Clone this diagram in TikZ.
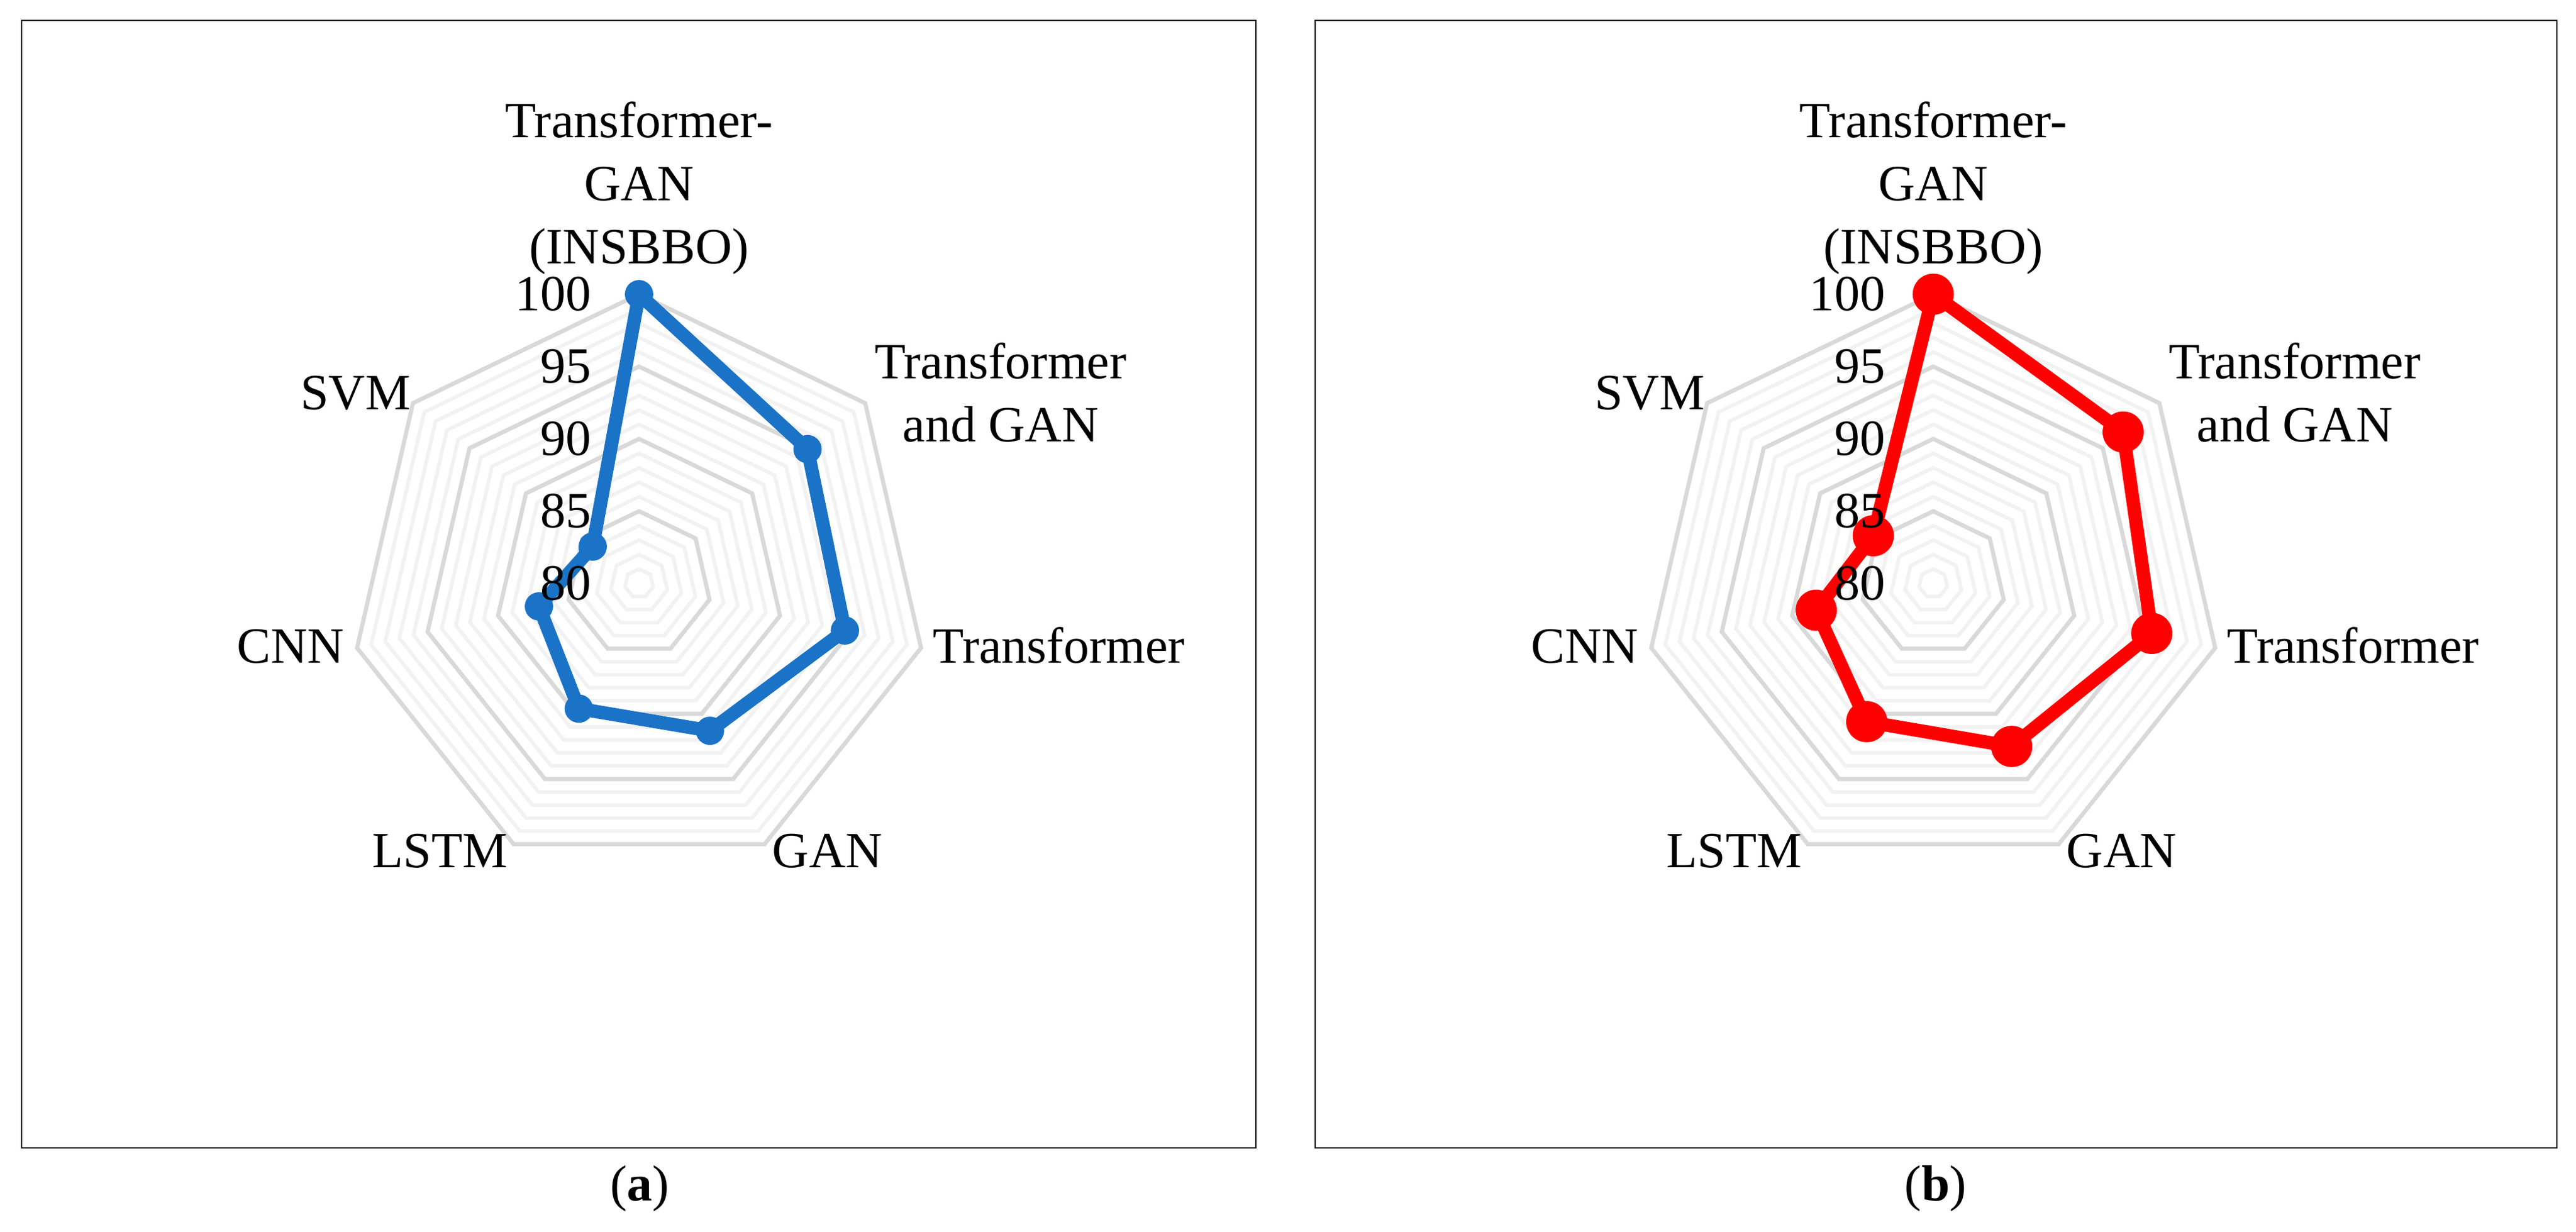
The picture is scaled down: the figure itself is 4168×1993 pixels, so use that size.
\documentclass[tikz,border=0pt]{standalone}
\usepackage{fontspec}
\setmainfont{Liberation Serif}
\definecolor{gridlight}{HTML}{F2F2F2}
\definecolor{griddark}{HTML}{D9D9D9}
\definecolor{serblue}{RGB}{26,115,199}
\definecolor{serred}{RGB}{255,0,0}
\newcommand{\myradar}[4]{%
  \foreach \v in {81,...,100}{%
    \pgfmathsetmacro\rr{(\v-80)*23.4}%
    \draw[minor] (90:\rr) \foreach \k in {1,...,6}{ -- ({90-\k*360/7}:\rr)} -- cycle;}
  \foreach \v in {85,90,95,100}{%
    \pgfmathsetmacro\rr{(\v-80)*23.4}%
    \draw[major] (90:\rr) \foreach \k in {1,...,6}{ -- ({90-\k*360/7}:\rr)} -- cycle;}
  \foreach \val [count=\k from 0] in {#4}{%
    \coordinate (#1\k) at ({90-\k*360/7}:{(\val-80)*23.4});}
  \draw[series,draw=#2] (#10) -- (#11) -- (#12) -- (#13) -- (#14) -- (#15) -- (#16) -- cycle;
  \foreach \k in {0,...,6}{\node[circle,fill=#2,inner sep=0pt,minimum size=#3] (#1m\k) at (#1\k) {};}
  \foreach \v in {80,85,90,95,100}{%
    \node[lbl,anchor=east] (#1v\v) at (-77,{(\v-80)*23.4}) {\v};}
  \node[lbl,anchor=base,align=center] (#1c0) at (0,517) {Transformer-\\GAN\\(INSBBO)};
  \node[lbl,anchor=base,align=center] (#1c1) at (585,229) {Transformer\\and GAN};
  \node[lbl,anchor=base west] (#1c2) at (475,-129) {Transformer};
  \node[lbl,anchor=base west] (#1c3) at (215,-460) {GAN};
  \node[lbl,anchor=base east] (#1c4) at (-212,-460) {LSTM};
  \node[lbl,anchor=base east] (#1c5) at (-476,-129) {CNN};
  \node[lbl,anchor=base east] (#1c6) at (-369,281) {SVM};
}
\begin{document}
\begin{tikzpicture}[x=0.24pt,y=0.24pt,
  minor/.style={draw=gridlight,line width=1.4pt,line join=miter},
  major/.style={draw=griddark,line width=1.6pt,line join=miter},
  lbl/.style={font=\fontsize{19.7}{24.5}\selectfont,inner sep=0pt,text=black},
  frame/.style={draw=black,line width=0.6pt},
  series/.style={line width=5.2pt,line join=round},
]
\useasboundingbox (0,0) rectangle (4168,1993);
% panel a
\draw[frame] (35,136) rectangle (2032,1960);
\begin{scope}[shift={(1034,1049)}]
  \myradar{A}{serblue}{11pt}{100,94.9,94.6,91.3,89.6,87.1,84.1}
\end{scope}
\node[lbl] (capa) at (1035,70) {(\textbf{a})};
% panel b
\draw[frame] (2128,136) rectangle (4137,1960);
\begin{scope}[shift={(3128,1049)}]
  \myradar{B}{serred}{16pt}{100,96.8,95.5,92.5,90.6,88.3,85.3}
\end{scope}
\node[lbl] (capb) at (3132,70) {(\textbf{b})};
\end{tikzpicture}
\end{document}
